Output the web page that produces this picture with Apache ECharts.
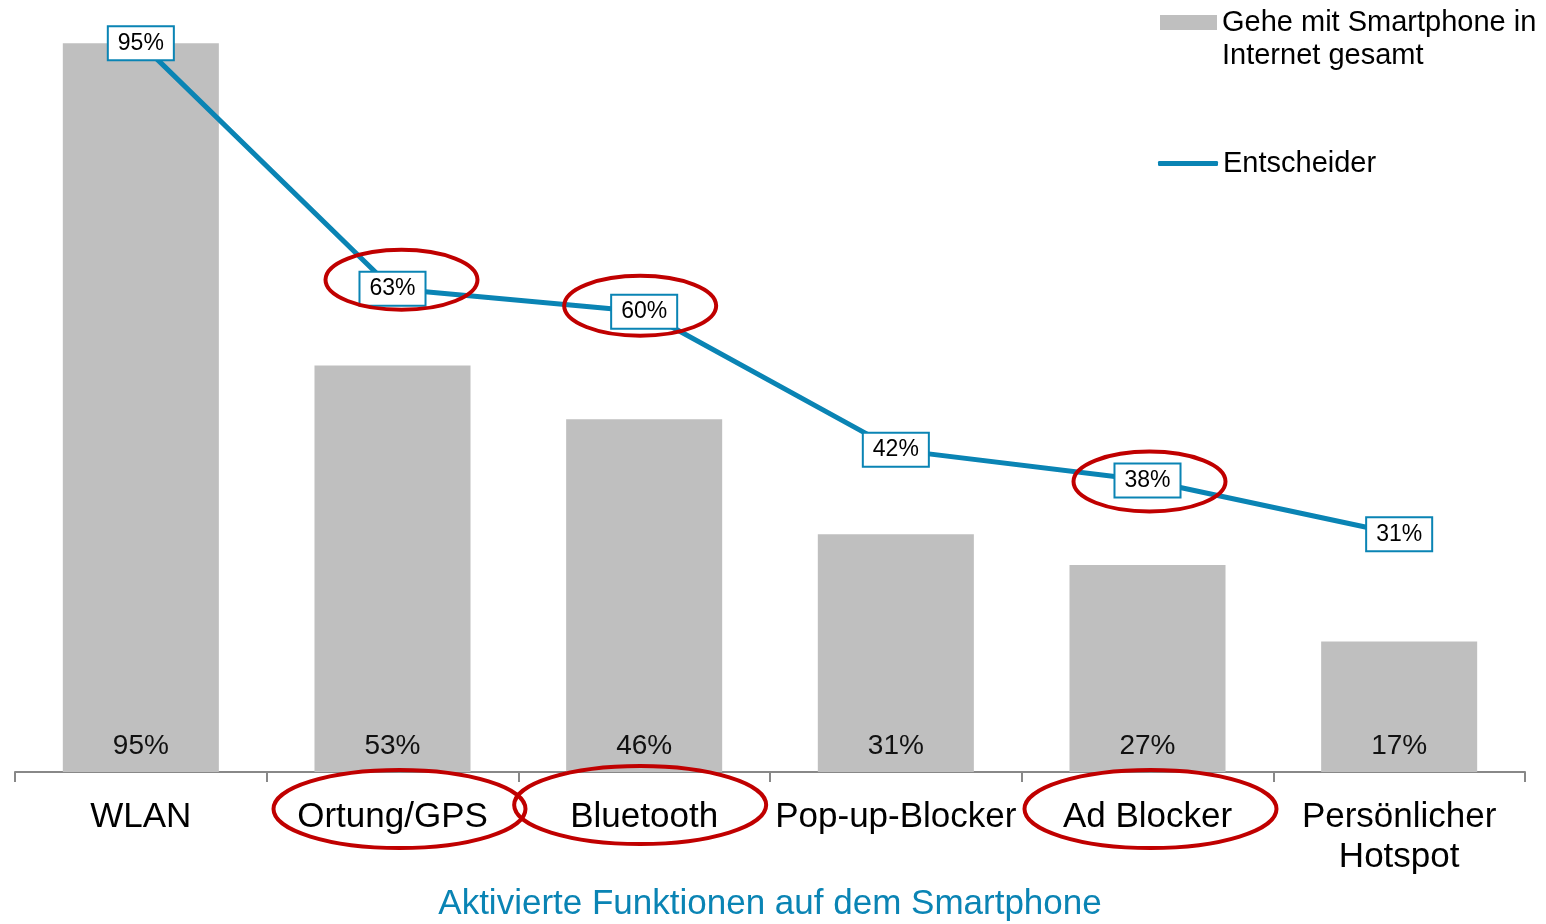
<!DOCTYPE html>
<html>
<head>
<meta charset="utf-8">
<script src="https://cdn.jsdelivr.net/npm/echarts@6/dist/echarts.min.js"></script>
<style>
  html, body { margin: 0; padding: 0; background: #fff; }
  #chart { width: 1546px; height: 924px; }
</style>
</head>
<body>
<div id="chart"></div>
<script>
const categories = ["WLAN", "Ortung/GPS", "Bluetooth", "Pop-up-Blocker", "Ad Blocker", "Persönlicher\nHotspot"];
const gesamt = [95, 53, 46, 31, 27, 17];
const entscheider = [95, 63, 60, 42, 38, 31];
const highlighted = [1, 2, 4]; // categories circled in red
// hand-drawn look: small offsets of each red ellipse
const valueRingShift = [[9, -9], [-4, -6], [2, 1]];
const labelRingShift = [[7, 37], [-4, 33], [3, 37]];

const barName = "Gehe mit Smartphone in Internet gesamt";
const lineName = "Entscheider";
const blue = "#0a84b4";
const red = "#c00000";
const font = "'Liberation Sans', Arial, sans-serif";

const chart = echarts.init(document.getElementById("chart"));

chart.setOption({
  animation: false,
  textStyle: { fontFamily: font },
  grid: { left: 15, right: 21, top: 5, bottom: 152, outerBoundsMode: "none" },
  legend: [
    {
      data: [{ name: barName, icon: "rect" }],
      left: 1155,
      top: -32,
      itemWidth: 57,
      itemHeight: 15,
      // leading blank line keeps the icon level with the first text line
      formatter: () => " \nGehe mit Smartphone in\nInternet gesamt",
      textStyle: { fontSize: 29, lineHeight: 33, color: "#000" },
      selectedMode: false,
    },
    {
      data: [{ name: lineName, icon: "roundRect" }],
      left: 1153,
      top: 142,
      itemWidth: 60,
      itemHeight: 5,
      itemStyle: { color: blue },
      textStyle: { fontSize: 29, lineHeight: 33, color: "#000" },
      selectedMode: false,
    },
  ],
  xAxis: {
    type: "category",
    data: categories,
    axisLine: { lineStyle: { color: "#888", width: 2 } },
    axisTick: { show: true, length: 10, lineStyle: { color: "#888", width: 2 } },
    axisLabel: { fontSize: 35, lineHeight: 40, color: "#000", margin: 25, interval: 0 },
    name: "Aktivierte Funktionen auf dem Smartphone",
    nameLocation: "middle",
    nameGap: 115,
    nameTextStyle: { fontSize: 35, color: blue },
  },
  yAxis: {
    type: "value",
    min: 0,
    max: 100,
    show: false,
    splitLine: { show: false },
  },
  series: [
    {
      name: barName,
      type: "bar",
      data: gesamt,
      barWidth: "62%",
      itemStyle: { color: "#bfbfbf" },
      label: {
        show: true,
        position: "insideBottom",
        distance: 12,
        formatter: "{c}%",
        fontSize: 28,
        color: "#111",
      },
    },
    {
      name: lineName,
      type: "line",
      data: entscheider,
      symbol: "circle",
      symbolSize: 4,
      lineStyle: { color: blue, width: 5 },
      itemStyle: { color: blue },
      label: {
        show: true,
        position: "inside",
        formatter: "{c}%",
        fontSize: 23,
        color: "#000",
        backgroundColor: "#fff",
        borderColor: blue,
        borderWidth: 2,
        padding: [5, 9, 4, 9],
      },
      z: 3,
    },
  ],
});

// red annotation ellipses around the highlighted values and their axis labels
const baseY = chart.convertToPixel({ yAxisIndex: 0 }, 0);
const ellipses = [];
highlighted.forEach((i, k) => {
  const p = chart.convertToPixel({ seriesIndex: 1 }, [i, entscheider[i]]);
  ellipses.push({
    type: "ellipse",
    shape: { cx: p[0] + valueRingShift[k][0], cy: p[1] + valueRingShift[k][1], rx: 76, ry: 30 },
    style: { fill: "none", stroke: red, lineWidth: 4 },
    z: 10,
  });
  const x = chart.convertToPixel({ xAxisIndex: 0 }, i);
  ellipses.push({
    type: "ellipse",
    shape: { cx: x + labelRingShift[k][0], cy: baseY + labelRingShift[k][1], rx: 126, ry: 39 },
    style: { fill: "none", stroke: red, lineWidth: 4 },
    z: 10,
  });
});
chart.setOption({ graphic: ellipses });
</script>
</body>
</html>
